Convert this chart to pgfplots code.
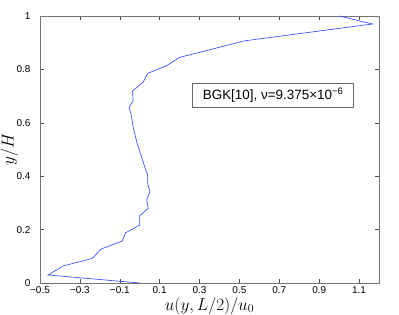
\documentclass[border=0pt]{standalone}
\usepackage{fontspec}
\setmainfont{Liberation Sans}
\usepackage{pgfplots}
\pgfplotsset{compat=1.18}
\begin{document}
\begin{tikzpicture}[x=1bp,y=1bp]
\path[use as bounding box] (-40bp,-32bp) rectangle (359bp,283bp);
\begin{axis}[
  at={(0,0)}, anchor=south west,
  width=339bp, height=267bp, scale only axis,
  xmin=-0.5, xmax=1.2, ymin=0, ymax=1,
  axis line style={black!55, line width=0.8pt},
  tick style={black!70, line width=0.5pt},
  tick align=inside, major tick length=4bp,
  xtick={-0.5,-0.3,-0.1,0.1,0.3,0.5,0.7,0.9,1.1},
  xticklabels={−0.5,−0.3,−0.1,0.1,0.3,0.5,0.7,0.9,1.1},
  ytick={0,0.2,0.4,0.6,0.8,1},
  yticklabels={0,0.2,0.4,0.6,0.8,1},
  ticklabel style={font=\fontsize{10}{11}\selectfont},
  xticklabel style={yshift=0bp},
  yticklabel style={xshift=-6bp},
  xlabel={$u(y,L/2)/u_0$},
  ylabel={$y/H$},
  label style={font=\fontsize{17}{20}\selectfont},
  xlabel style={yshift=3bp},
  ylabel style={yshift=-8bp},
  clip=false,
]
\addplot[color={rgb,1:red,0.2;green,0.3;blue,1}, line width=0.65pt] coordinates {
(0.0,0) (-0.46,0.03) (-0.383,0.064) (-0.238,0.092) (-0.194,0.127)
(-0.088,0.157) (-0.071,0.188) (0.0,0.217) (0.0,0.252) (0.043,0.28)
(0.035,0.311) (0.051,0.342) (0.04,0.373) (0.04,0.405) (0.025,0.435)
(0.009,0.473) (-0.013,0.523) (-0.033,0.585) (-0.041,0.623) (-0.053,0.658)
(-0.033,0.683) (-0.036,0.719) (0.018,0.753) (0.04,0.785) (0.135,0.814)
(0.2,0.845) (0.527,0.907) (1.167,0.97) (1.0,1.0)
};
\node[draw=black!60, fill=white, line width=0.5pt, minimum width=161bp, minimum height=24bp, inner sep=1bp,
  font=\fontsize{13.5}{15}\selectfont] at (axis cs:0.669,0.704) {BGK[10], ν=9.375×10\textsuperscript{−6}};
\end{axis}
\end{tikzpicture}
\end{document}
